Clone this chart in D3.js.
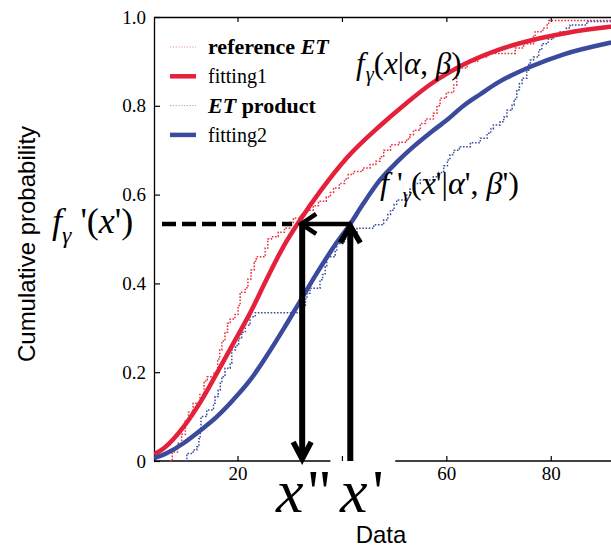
<!DOCTYPE html>
<html>
<head>
<meta charset="utf-8">
<script src="https://cdn.jsdelivr.net/npm/d3@7"></script>
<style>
  body { margin: 0; background: #fff; }
  svg { display: block; }
  text { font-family: "Liberation Serif", "Times New Roman", serif; fill: #000; }
</style>
</head>
<body>
<svg id="chart" width="611" height="550"></svg>
<script>
// ---- data -----------------------------------------------------------
const xTicks = [20, 40, 60, 80];
const yTicks = [0, 0.2, 0.4, 0.6, 0.8, 1.0];

// fitted gamma CDFs, [data, cumulative probability]
const fitting1 = [
  [4, 0.015], [6, 0.03], [9.66, 0.077], [13, 0.135], [16.05, 0.198], [19.2, 0.265],
  [22.4, 0.333], [25.6, 0.41], [28.8, 0.483], [32, 0.543], [36, 0.61], [40.96, 0.683],
  [47.3, 0.755], [52.45, 0.807], [56.9, 0.848], [63.3, 0.893], [69.7, 0.925],
  [76.1, 0.947], [82.5, 0.963], [91.4, 0.978], [97, 0.984]
];
const fitting2 = [
  [4, 0.006], [6.5, 0.018], [9.66, 0.04], [13, 0.07], [16.05, 0.10], [19.2, 0.138],
  [22.4, 0.182], [25.6, 0.237], [28.8, 0.297], [32, 0.36], [35.2, 0.423], [39, 0.492],
  [41.6, 0.534], [44, 0.578], [47.3, 0.633], [50.5, 0.673], [53.7, 0.708], [57, 0.74],
  [60.1, 0.768], [63.3, 0.80], [66.5, 0.826], [69.7, 0.851], [76.1, 0.888],
  [82.5, 0.916], [91.4, 0.942], [97, 0.955]
];

// empirical CDFs: value at which each step begins, and the level reached
const referenceET = [
  [7, 0.0], [7.5, 0.02], [8.5, 0.04], [9.3, 0.06], [10, 0.09], [10.6, 0.11], [11.5, 0.13],
  [12.8, 0.15], [13.6, 0.18], [14.2, 0.19], [15.5, 0.2], [16.2, 0.23], [16.6, 0.25],
  [17, 0.27], [17.6, 0.29], [18.1, 0.31], [18.6, 0.32], [19.5, 0.33], [20.1, 0.35],
  [20.5, 0.38], [21.5, 0.39], [22, 0.41], [22.6, 0.43], [23.2, 0.45], [23.6, 0.46],
  [25.3, 0.48], [25.8, 0.5], [26.5, 0.505], [27.8, 0.515], [29, 0.525], [30, 0.537],
  [30.7, 0.547], [32, 0.555], [33.2, 0.565], [34.5, 0.575], [35.5, 0.585], [37, 0.595],
  [37.8, 0.605], [38.4, 0.615], [39.5, 0.625], [40.5, 0.635], [41.2, 0.645], [42.2, 0.652],
  [44, 0.66], [45.4, 0.668], [46.5, 0.675], [47.3, 0.685], [48, 0.70], [49.3, 0.712],
  [51, 0.718], [52.4, 0.725], [53, 0.735], [53.7, 0.745], [55, 0.76], [56, 0.77],
  [57.5, 0.783], [58.2, 0.80], [58.8, 0.817], [60, 0.83], [61.4, 0.847], [62, 0.873],
  [62.5, 0.885], [64, 0.9], [66, 0.91], [68, 0.918], [73.2, 0.93], [74.8, 0.94],
  [76.7, 0.956], [77, 0.967], [78.5, 0.975], [79.3, 0.982], [79.6, 0.992], [97, 0.992]
];
const productET = [
  [10, 0.0], [10.3, 0.017], [11.5, 0.025], [12.2, 0.032], [12.6, 0.05], [12.85, 0.07],
  [13, 0.1], [14.1, 0.115], [15.4, 0.13], [15.7, 0.145], [16.3, 0.16], [16.7, 0.175],
  [17, 0.19], [17.6, 0.209], [18.6, 0.22], [18.9, 0.25], [19.6, 0.26], [20.2, 0.276],
  [20.8, 0.29], [21.5, 0.306], [22.4, 0.325], [23.4, 0.334], [32.3, 0.351], [33, 0.365],
  [33.3, 0.378], [33.9, 0.389], [35.8, 0.408], [36.3, 0.42], [36.8, 0.438], [37.1, 0.46],
  [38.7, 0.475], [39, 0.49], [40.5, 0.50], [42, 0.515], [42.9, 0.524], [46.1, 0.532],
  [48, 0.543], [48.8, 0.555], [49.3, 0.565], [50, 0.578], [50.5, 0.588], [52.4, 0.599],
  [53, 0.612], [53.7, 0.625], [55, 0.633], [57.5, 0.64], [58.5, 0.65], [59.5, 0.665],
  [60.2, 0.678], [60.7, 0.69], [61.4, 0.70], [62.5, 0.708], [64.6, 0.717], [66.5, 0.727],
  [67.8, 0.738], [68.5, 0.748], [69, 0.757], [70.3, 0.764], [71, 0.775], [71.6, 0.79],
  [72.6, 0.802], [73, 0.815], [73.5, 0.836], [74, 0.85], [74.5, 0.862], [75.4, 0.88],
  [75.8, 0.893], [76.1, 0.903], [76.7, 0.91], [77.7, 0.926], [78.3, 0.94], [79.5, 0.95],
  [80.5, 0.959], [81.8, 0.967], [83, 0.975], [83.7, 0.982], [86.9, 0.99], [97, 0.99]
];

// the construction: x'' on fitting1 and x' on fitting2 share level f'(x')
const xDoublePrime = 32.0;
const xPrime = 41.6;
const fPrimeLevel = 0.534;
const axisGap = [37.8, 50.2];   // stretch of the lower axis left blank around x'

const legendItems = [
  { pre: "reference ", it: "ET", post: "", bold: true, color: "#e8303f", dotted: true },
  { pre: "fitting1", it: "", post: "", bold: false, color: "#e4203a", dotted: false },
  { pre: "", it: "ET", post: " product", bold: true, color: "#3c4d9e", dotted: true },
  { pre: "fitting2", it: "", post: "", bold: false, color: "#3a4a9c", dotted: false }
];

// ---- layout ---------------------------------------------------------
const RED = "#e4203a", BLUE = "#3a4a9c";
const SERIF = "'Liberation Serif', 'Times New Roman', serif";
const SANS = "'Liberation Sans', Arial, sans-serif";
const svg = d3.select("#chart");
const x = d3.scaleLinear().domain([4, 97]).range([154, 639.5]);
const y = d3.scaleLinear().domain([0, 1]).range([461, 17]);

svg.append("defs").append("clipPath").attr("id", "plotclip")
  .append("rect").attr("x", 154).attr("y", 10).attr("width", 500).attr("height", 455);

// ---- axes -----------------------------------------------------------
const yAxis = svg.append("g").attr("transform", "translate(154,0)")
  .call(d3.axisLeft(y).tickValues(yTicks).tickSizeInner(-6).tickSizeOuter(0).tickPadding(8)
    .tickFormat(d => d === 0 ? "0" : d.toFixed(1)));
yAxis.selectAll("text").style("font-size", "19px").style("font-family", SERIF);

const xAxis = svg.append("g").attr("transform", "translate(0,461)")
  .call(d3.axisBottom(x).tickValues(xTicks).tickSizeInner(-5).tickSizeOuter(0).tickPadding(6));
xAxis.selectAll("text").style("font-size", "19px").style("font-family", SERIF);
xAxis.select(".domain").remove();
xAxis.selectAll(".tick").filter(d => d > axisGap[0] && d < axisGap[1]).select("text").remove();
[[x.range()[0], x(axisGap[0])], [x(axisGap[1]), x.range()[1]]].forEach(([a, b]) => {
  xAxis.append("line").attr("x1", a).attr("x2", b).attr("y1", 0).attr("y2", 0)
    .attr("stroke", "#000").attr("stroke-width", 1.3);
});

svg.append("g").attr("transform", "translate(0,17)")
  .call(d3.axisTop(x).tickValues(xTicks).tickSizeInner(-5).tickSizeOuter(0).tickFormat(""));

svg.selectAll(".domain").attr("stroke-width", 1.3);
svg.selectAll(".tick line").attr("stroke-width", 1.2);

// ---- data marks -----------------------------------------------------
const plot = svg.append("g").attr("clip-path", "url(#plotclip)");
const smooth = d3.line().x(d => x(d[0])).y(d => y(d[1])).curve(d3.curveMonotoneX);
const stairs = d3.line().x(d => x(d[0])).y(d => y(d[1])).curve(d3.curveStepAfter);

plot.append("path").datum(referenceET).attr("d", stairs)
  .attr("fill", "none").attr("stroke", "#e8303f").attr("stroke-width", 1.5)
  .attr("stroke-dasharray", "1.6,1.6");
plot.append("path").datum(productET).attr("d", stairs)
  .attr("fill", "none").attr("stroke", "#3c4d9e").attr("stroke-width", 1.5)
  .attr("stroke-dasharray", "1.6,1.6");
plot.append("path").datum(fitting1).attr("d", smooth)
  .attr("fill", "none").attr("stroke", RED).attr("stroke-width", 4.5);
plot.append("path").datum(fitting2).attr("d", smooth)
  .attr("fill", "none").attr("stroke", BLUE).attr("stroke-width", 4.5);

// ---- legend ---------------------------------------------------------
const legend = svg.append("g");
legendItems.forEach((it, i) => {
  const ly = 47 + i * 29.3;
  legend.append("line").attr("x1", 170).attr("x2", 196).attr("y1", ly).attr("y2", ly)
    .attr("stroke", it.color)
    .attr("stroke-width", it.dotted ? 1 : 4.5)
    .attr("stroke-opacity", it.dotted ? 0.55 : 1)
    .attr("stroke-dasharray", it.dotted ? "1.2,1.6" : null);
  const t = legend.append("text").attr("x", 208).attr("y", ly).attr("dy", "0.33em")
    .style("font-family", SERIF)
    .style("font-size", it.bold ? "22px" : "20px").style("font-weight", it.bold ? "bold" : "normal");
  if (it.pre) t.append("tspan").text(it.pre);
  if (it.it) t.append("tspan").style("font-style", "italic").text(it.it);
  if (it.post) t.append("tspan").text(it.post);
});

// ---- construction arrows -------------------------------------------
const ink = svg.append("g").attr("stroke", "#000").attr("fill", "none");
const yl = y(fPrimeLevel), xa = x(xDoublePrime), xb = x(xPrime);
// dashed guide from the axis to x''
ink.append("line").attr("x1", 162).attr("x2", xa - 8).attr("y1", yl).attr("y2", yl)
  .attr("stroke-width", 4.5).attr("stroke-dasharray", "14,6");
// horizontal arrow from x' back to x''
ink.append("line").attr("x1", xb).attr("x2", xa).attr("y1", yl).attr("y2", yl)
  .attr("stroke-width", 4.5);
ink.append("path").attr("d", `M${xa + 16},${yl - 10} L${xa + 1},${yl} L${xa + 16},${yl + 10}`)
  .attr("stroke-width", 4.5).attr("stroke-linejoin", "miter");
// down arrow at x''
ink.append("line").attr("x1", xa + 2).attr("x2", xa + 2).attr("y1", yl).attr("y2", y(0) - 2)
  .attr("stroke-width", 6);
ink.append("path").attr("d", `M${xa - 7},${y(0) - 19} L${xa + 2},${y(0) - 2} L${xa + 11},${y(0) - 19}`)
  .attr("stroke-width", 5.5);
// up arrow at x'
ink.append("line").attr("x1", xb).attr("x2", xb).attr("y1", y(0)).attr("y2", yl + 2)
  .attr("stroke-width", 6);
ink.append("path").attr("d", `M${xb - 10},${yl + 19} L${xb},${yl + 2} L${xb + 10},${yl + 19}`)
  .attr("stroke-width", 5.5);

// ---- formula labels -------------------------------------------------
function formula(xp, yp, size, parts) {
  const t = svg.append("text").attr("x", xp).attr("y", yp)
    .style("font-family", SERIF).style("font-size", size + "px");
  parts.forEach(p => {
    const s = t.append("tspan").text(p.t).style("font-family", SERIF);
    if (p.i) s.style("font-style", "italic");
    if (p.sub) s.style("font-size", (size * 0.66) + "px");
    if (p.dy) s.attr("dy", p.dy);
    if (p.dx) s.attr("dx", p.dx);
  });
  return t;
}
formula(356, 74, 31, [
  { t: "f", i: 1 }, { t: "γ", i: 1, sub: 1, dy: 7, dx: 1 }, { t: "(", dy: -7 },
  { t: "x", i: 1 }, { t: "|" }, { t: "α", i: 1 }, { t: ", " }, { t: "β", i: 1 }, { t: ")" }
]);
formula(380, 194, 32, [
  { t: "f", i: 1 }, { t: " '" }, { t: "γ", i: 1, sub: 1, dy: 8 }, { t: "(", dy: -8 },
  { t: "x", i: 1 }, { t: "'" }, { t: "|" }, { t: "α", i: 1 }, { t: "'" }, { t: ", " },
  { t: "β", i: 1 }, { t: "')" }
]);
formula(52, 233, 36, [
  { t: "f", i: 1 }, { t: "γ", i: 1, sub: 1, dy: 10 }, { t: " '(", dy: -10 },
  { t: "x", i: 1 }, { t: "')" }
]);
formula(276, 512, 62, [{ t: "x", i: 1 }, { t: "\"", dx: 3 }]);
formula(340, 512, 62, [{ t: "x", i: 1 }, { t: "'", dx: 5 }]);

// ---- axis titles ----------------------------------------------------
svg.append("text").attr("x", 381).attr("y", 543).attr("text-anchor", "middle")
  .style("font-family", SANS).style("font-size", "24px").text("Data");
svg.append("text").attr("transform", "translate(35,244) rotate(-90)").attr("text-anchor", "middle")
  .style("font-family", SANS).style("font-size", "24px")
  .text("Cumulative probability");
</script>
</body>
</html>
